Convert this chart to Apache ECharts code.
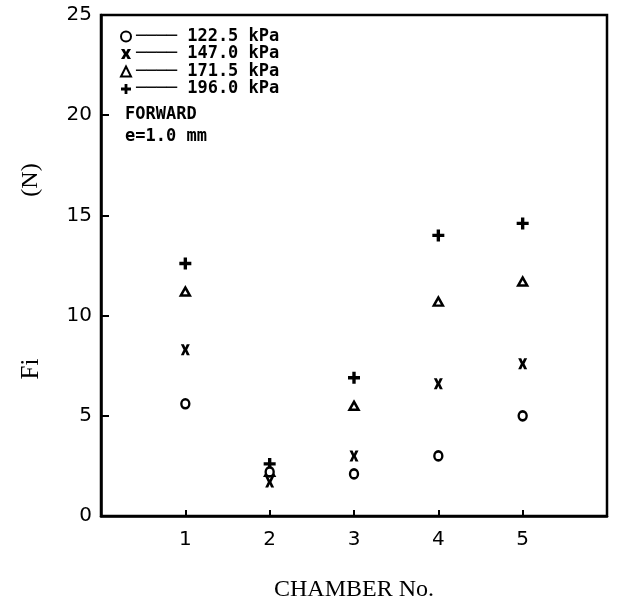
<!DOCTYPE html>
<html>
<head>
<meta charset="utf-8">
<script src="https://cdn.jsdelivr.net/npm/echarts@6.0.0/dist/echarts.min.js"></script>
<style>
	html, body { margin: 0; padding: 0; background: #fff; }
	#chart { width: 622px; height: 607px; }
</style>
</head>
<body>
<div id="chart"></div>
<script>
// chamber numbers on the x axis
var chambers = [1, 2, 3, 4, 5];
// pressure levels (legend)
var pressures = ['122.5 kPa', '147.0 kPa', '171.5 kPa', '196.0 kPa'];
// Fi (N), one array per pressure
var fi1225 = [5.6, 2.2, 2.1, 3.0, 5.0];
var fi1470 = [8.3, 1.7, 3.0, 6.6, 7.6];
var fi1715 = [11.2, 2.2, 5.5, 10.7, 11.7];
var fi1960 = [12.6, 2.6, 6.9, 14.0, 14.6];
var yTicks = [0, 5, 10, 15, 20, 25];

var monoFont = '"DejaVu Sans Mono", "Liberation Mono", monospace';
var serifFont = '"Liberation Serif", "DejaVu Serif", serif';
var tickFont = '"DejaVu Sans", "Noto Sans", sans-serif';

var plusPath = 'path://M3.6,0H6.4V3.6H10V6.4H6.4V10H3.6V6.4H0V3.6H3.6Z';
var crossPath = 'path://M0,0H3.4L5,3L6.6,0H10L7,5L10,10H6.6L5,7L3.4,10H0L3,5Z';

function toPoints(values) {
	return chambers.map(function(c, i) {
		return [c, values[i]];
	});
}

// the circles sit on top so the overlapping triangle at chamber 2 stays hidden
var markers = [
	{ values: fi1225, symbol: 'circle', size: [8, 9], hollow: true, z: 4 },
	{ values: fi1470, symbol: crossPath, size: [9, 11], hollow: false, z: 2 },
	{ values: fi1715, symbol: 'triangle', size: [9, 8], hollow: true, z: 2 },
	{ values: fi1960, symbol: plusPath, size: [12, 12], hollow: false, z: 3 }
];

var series = markers.map(function(m, i) {
	return {
		name: pressures[i],
		type: 'scatter',
		z: m.z,
		symbol: m.symbol,
		symbolSize: m.size,
		itemStyle: m.hollow ?
			{ color: '#fff', borderColor: '#000', borderWidth: 2.5, opacity: 1 } :
			{ color: '#000', borderWidth: 0, opacity: 1 },
		data: toPoints(m.values)
	};
});

var chart = echarts.init(document.getElementById('chart'));
chart.setOption({
	animation: false,
	backgroundColor: '#fff',
	grid: {
		left: 101,
		top: 15,
		right: 15,
		bottom: 91,
		show: true,
		borderColor: '#000',
		borderWidth: 2.5
	},
	legend: {
		orient: 'vertical',
		left: 120,
		top: 28,
		itemWidth: 10,
		itemHeight: 10,
		itemGap: 0.5,
		padding: 0,
		selectedMode: false,
		data: pressures,
		formatter: function(name) {
			return '\u2500\u2500\u2500\u2500 ' + name;
		},
		textStyle: {
			fontFamily: monoFont,
			fontSize: 17,
			fontWeight: 'bold',
			lineHeight: 17,
			color: '#000'
		}
	},
	xAxis: {
		type: 'value',
		min: 0,
		max: 6,
		interval: 1,
		name: 'CHAMBER No.',
		nameLocation: 'middle',
		nameGap: 62,
		nameTextStyle: { fontFamily: serifFont, fontSize: 24, color: '#000' },
		axisLine: { show: true, lineStyle: { color: '#000', width: 2.5 } },
		axisTick: { show: true, inside: true, length: 6, lineStyle: { color: '#000', width: 2 } },
		axisLabel: {
			margin: 14,
			fontFamily: tickFont,
			fontSize: 20,
			color: '#000',
			formatter: function(v) {
				return chambers.indexOf(v) >= 0 ? String(v) : '';
			}
		},
		splitLine: { show: false }
	},
	yAxis: {
		type: 'value',
		min: yTicks[0],
		max: yTicks[yTicks.length - 1],
		interval: 5,
		axisLine: { show: true, lineStyle: { color: '#000', width: 2.5 } },
		axisTick: { show: true, inside: true, length: 8, lineStyle: { color: '#000', width: 2 } },
		axisLabel: { margin: 9, fontFamily: tickFont, fontSize: 20, color: '#000' },
		splitLine: { show: false }
	},
	graphic: [
		{
			type: 'text',
			x: 31,
			y: 369,
			rotation: Math.PI / 2,
			style: { text: 'Fi', font: '25px ' + serifFont, fill: '#000', align: 'center', verticalAlign: 'middle' }
		},
		{
			type: 'text',
			x: 31,
			y: 180,
			rotation: Math.PI / 2,
			style: { text: '(N)', font: '24px ' + serifFont, fill: '#000', align: 'center', verticalAlign: 'middle' }
		},
		{
			type: 'text',
			left: 125,
			top: 106,
			style: { text: 'FORWARD', font: 'bold 17px ' + monoFont, fill: '#000' }
		},
		{
			type: 'text',
			left: 125,
			top: 128,
			style: { text: 'e=1.0 mm', font: 'bold 17px ' + monoFont, fill: '#000' }
		}
	],
	series: series
});
</script>
</body>
</html>
